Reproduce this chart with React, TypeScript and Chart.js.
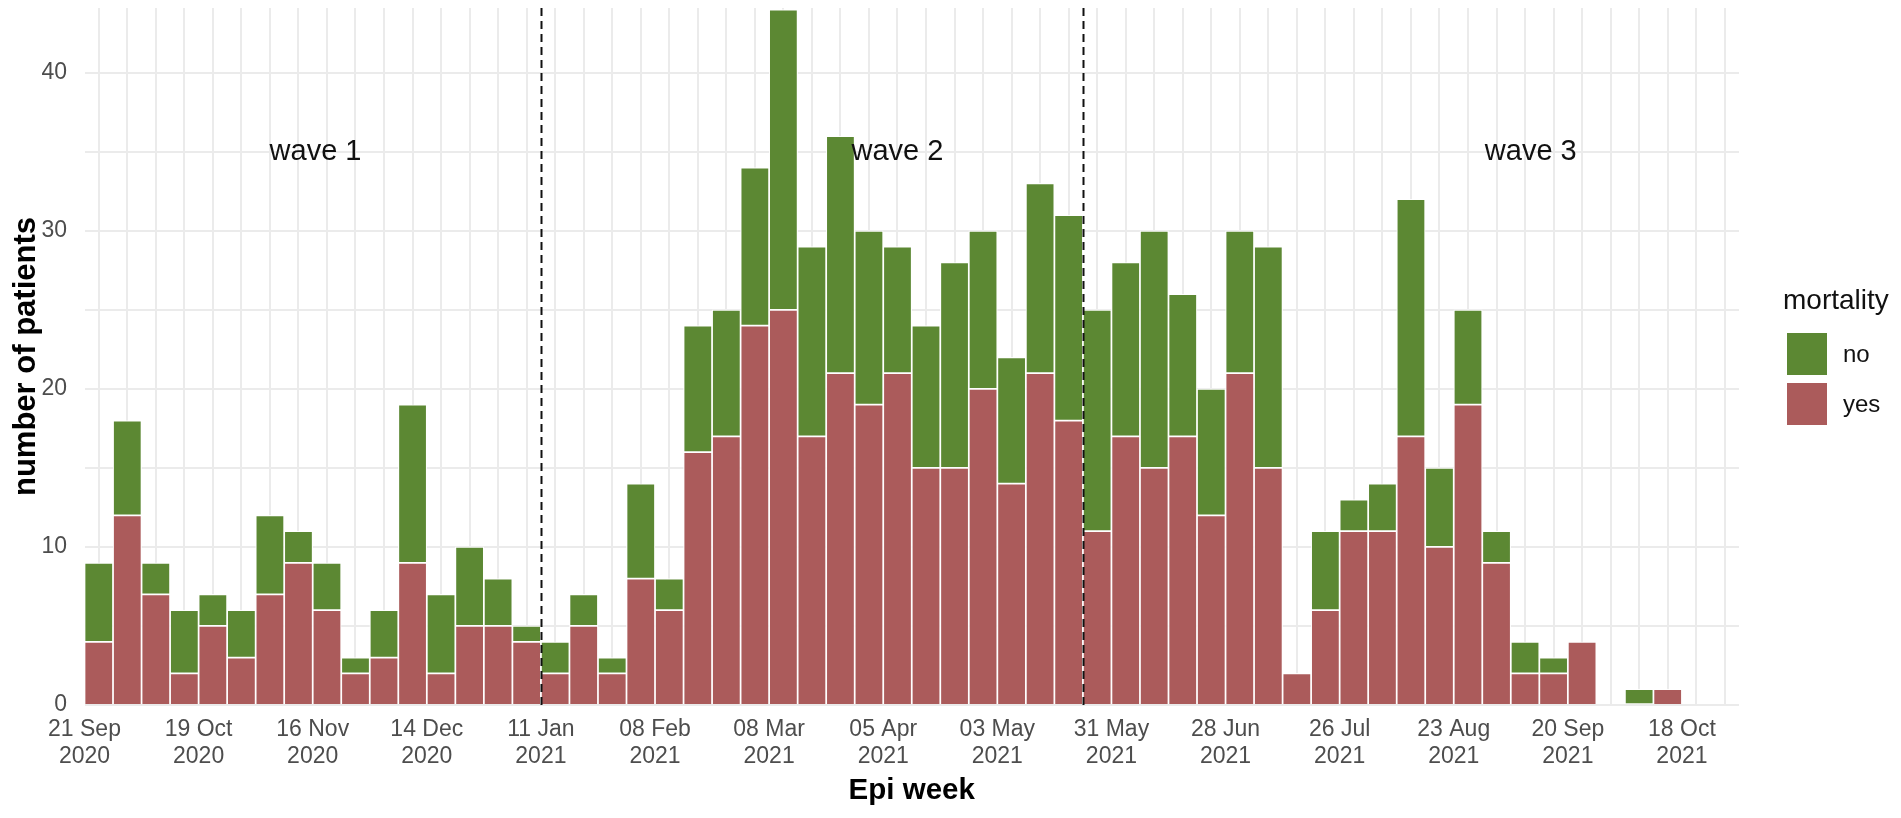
import React, { useEffect, useRef } from 'react';
import { Chart, registerables } from 'chart.js';

Chart.register(...registerables);

// Weekly bins starting 21 Sep 2020 (index 0) through 25 Oct 2021 (index 57)
const tickDays = ['21 Sep', '19 Oct', '16 Nov', '14 Dec', '11 Jan', '08 Feb', '08 Mar', '05 Apr', '03 May', '31 May', '28 Jun', '26 Jul', '23 Aug', '20 Sep', '18 Oct'];
const tickYears = ['2020', '2020', '2020', '2020', '2021', '2021', '2021', '2021', '2021', '2021', '2021', '2021', '2021', '2021', '2021'];

// mortality = yes (died)
const mortalityYes = [
  4, 12, 7, 2, 5, 3, 7, 9, 6, 2, 3, 9, 2, 5, 5, 4,
  2, 5, 2, 8, 6, 16, 17, 24, 25, 17, 21, 19, 21, 15, 15, 20,
  14, 21, 18, 11, 17, 15, 17, 12, 21, 15, 2, 6, 11, 11, 17, 10,
  19, 9, 2, 2, 4, 0, 0, 1, 0, 0,
];
// mortality = no (survived)
const mortalityNo = [
  5, 6, 2, 4, 2, 3, 5, 2, 3, 1, 3, 10, 5, 5, 3, 1,
  2, 2, 1, 6, 2, 8, 8, 10, 19, 12, 15, 11, 8, 9, 13, 10,
  8, 12, 13, 14, 11, 15, 9, 8, 9, 14, 0, 5, 2, 3, 15, 5,
  6, 2, 2, 1, 0, 0, 1, 0, 0, 0,
];

const waveLabels = ['wave 1', 'wave 2', 'wave 3'];
const wavePositions = [8.1, 28.5, 50.7];
const waveLabelY = 35;
const waveBoundaries = [16, 35]; // 11 Jan 2021, 24 May 2021

const legendItems = ['no', 'yes'];

const FONT = "'Liberation Sans', Arial, Helvetica, sans-serif";
const GREEN = '#5c8833';
const RED = '#ab5b5b';

const annotationPlugin = {
  id: 'waveAnnotations',
  afterDatasetsDraw(chart: any) {
    const { ctx, chartArea, scales } = chart;
    const xs = scales.x;
    const ys = scales.y;
    ctx.save();
    ctx.strokeStyle = '#111111';
    ctx.lineWidth = 2;
    ctx.setLineDash([8, 5]);
    waveBoundaries.forEach((b) => {
      const px = Math.round(xs.getPixelForValue(b)) + 0.5;
      ctx.beginPath();
      ctx.moveTo(px, chartArea.top);
      ctx.lineTo(px, chartArea.bottom);
      ctx.stroke();
    });
    ctx.setLineDash([]);
    ctx.fillStyle = '#111111';
    ctx.font = `29px ${FONT}`;
    ctx.textAlign = 'center';
    ctx.textBaseline = 'middle';
    waveLabels.forEach((t, i) => {
      ctx.fillText(t, xs.getPixelForValue(wavePositions[i]), ys.getPixelForValue(waveLabelY));
    });
    ctx.restore();
  },
  afterDraw(chart: any) {
    const { ctx } = chart;
    ctx.save();
    ctx.fillStyle = '#111111';
    ctx.textAlign = 'left';
    ctx.textBaseline = 'middle';
    ctx.font = `28px ${FONT}`;
    ctx.fillText('mortality', 1783, 301);
    const colors = [GREEN, RED];
    const boxTops = [333, 383];
    ctx.font = `24px ${FONT}`;
    legendItems.forEach((lab, i) => {
      ctx.fillStyle = colors[i];
      ctx.fillRect(1787, boxTops[i], 40, 42);
      ctx.fillStyle = '#111111';
      ctx.fillText(lab, 1843, boxTops[i] + 22);
    });
    ctx.restore();
  },
};

export default function App() {
  const canvasRef = useRef<HTMLCanvasElement | null>(null);

  useEffect(() => {
    if (!canvasRef.current) return;
    const chart = new Chart(canvasRef.current, {
      type: 'bar',
      data: {
        datasets: [
          {
            label: 'yes',
            data: mortalityYes.map((v, i) => ({ x: i + 0.5, y: v })),
            backgroundColor: RED,
            borderColor: 'rgba(255,255,255,0.9)',
            borderWidth: 1.2,
            borderSkipped: 'start',
            barPercentage: 1,
            categoryPercentage: 1,
          },
          {
            label: 'no',
            data: mortalityNo.map((v, i) => ({ x: i + 0.5, y: v })),
            backgroundColor: GREEN,
            borderColor: 'rgba(255,255,255,0.9)',
            borderWidth: 1.2,
            borderSkipped: false,
            barPercentage: 1,
            categoryPercentage: 1,
          },
        ],
      },
      options: {
        animation: false,
        responsive: true,
        maintainAspectRatio: false,
        layout: { padding: { left: 0, top: 8, right: 162, bottom: 0 } },
        plugins: {
          legend: { display: false },
          tooltip: { enabled: false },
        },
        scales: {
          x: {
            type: 'linear',
            min: 0,
            max: 58,
            stacked: true,
            offset: false,
            afterFit: (s: any) => {
              s.height = 113;
              s.paddingLeft = 0;
              s.paddingRight = 0;
            },
            grid: { color: '#ebebeb', lineWidth: 2, drawTicks: false },
            border: { display: false },
            ticks: {
              stepSize: 1,
              autoSkip: false,
              maxRotation: 0,
              minRotation: 0,
              padding: 11.5,
              color: '#4d4d4d',
              font: { family: FONT, size: 23, lineHeight: 1.17 },
              callback: (v: any) => {
                const n = Math.round(Number(v));
                if (n % 4 === 0 && n / 4 < tickDays.length) {
                  return [tickDays[n / 4], tickYears[n / 4]];
                }
                return '';
              },
            },
            title: {
              display: true,
              text: 'Epi week',
              color: '#000000',
              font: { family: FONT, size: 29.5, weight: 'bold' },
              padding: { top: 0, bottom: 9.6 },
            },
          },
          y: {
            min: 0,
            max: 44.1,
            stacked: true,
            afterFit: (s: any) => {
              s.width = 84.5;
              s.paddingTop = 0;
              s.paddingBottom = 0;
            },
            grid: { color: '#ebebeb', lineWidth: 2, drawTicks: false },
            border: { display: false },
            ticks: {
              stepSize: 5,
              includeBounds: false,
              padding: 17.5,
              color: '#4d4d4d',
              font: { family: FONT, size: 23 },
              callback: (v: any) => (Math.round(Number(v)) % 10 === 0 ? String(Math.round(Number(v))) : ''),
            },
            title: {
              display: true,
              text: 'number of patients',
              color: '#000000',
              font: { family: FONT, size: 31, weight: 'bold' },
              padding: { top: 8, bottom: 0 },
            },
          },
        },
      },
      plugins: [annotationPlugin],
    } as any);
    return () => chart.destroy();
  }, []);

  return (
    <div style={{ position: 'fixed', left: 0, top: 0, width: 1901, height: 818, background: '#ffffff' }}>
      <canvas ref={canvasRef} />
    </div>
  );
}
